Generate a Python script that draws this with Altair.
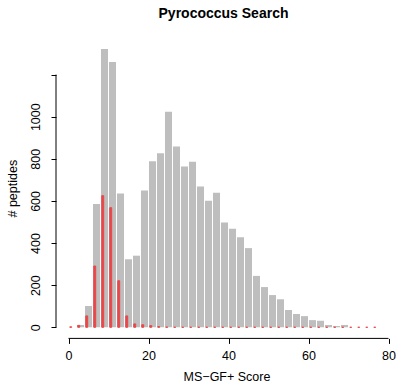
import altair as alt
import pandas as pd

# Histogram bins of width 2 on the MS-GF+ score axis
bin_start = list(range(0, 78, 2))

# All peptides per score bin
all_counts = [0, 11, 101, 585, 1321, 1260, 635, 323, 340, 650,
              788, 826, 1024, 858, 763, 786, 668, 601, 639, 498,
              468, 427, 376, 244, 191, 153, 133, 82, 63, 53,
              34, 31, 11, 6, 11, 0, 0, 0, 0]

# Decoy peptides per score bin
decoy_counts = [2, 9, 54, 291, 625, 568, 221, 54, 16, 12,
                8, 3, 1, 0, 0, 0, 0, 0, 0, 0,
                0, 0, 0, 0, 0, 0, 0, 0, 0, 0,
                0, 0, 0, 0, 0, 0, 0, 0, 0]

y_ticks = [0, 200, 400, 600, 800, 1000, 1200]
x_ticks = [0, 20, 40, 60, 80]

df = pd.DataFrame({"start": bin_start, "all": all_counts, "decoy": decoy_counts})

FONT = "Liberation Sans"
W, H = 341, 300.4

x_scale = alt.Scale(domain=[-3.125, 82.125], nice=False, zero=False)
y_scale = alt.Scale(domain=[-52.8, 1373.8], nice=False, zero=False)

base = alt.Chart(df)

gray = base.transform_calculate(
    x0="datum.start + 0.12", x1="datum.start + 1.88"
).mark_rect(color="#BEBEBE").encode(
    x=alt.X("x0:Q", scale=x_scale,
            axis=alt.Axis(values=x_ticks, title="MS\u2212GF+ Score", domain=False,
                          grid=False, tickSize=5, tickColor="black", labelPadding=6,
                          format="d",
                          labelFontSize=12.5, labelFont=FONT, labelColor="black",
                          titleFont=FONT, titleFontSize=12.5, titleFontWeight="normal",
                          titleColor="black", titlePadding=9, labelFlush=False)),
    x2="x1:Q",
    y=alt.Y("all:Q", scale=y_scale,
            axis=alt.Axis(values=y_ticks, title="# peptides", domain=False, grid=False,
                          tickSize=5, tickColor="black", labelAngle=270, format="d",
                          labelAlign="center", labelBaseline="bottom", labelPadding=9,
                          labelExpr="datum.value == 1200 ? '' : datum.label",
                          labelFontSize=12.5, labelFont=FONT, labelColor="black",
                          titleFont=FONT, titleFontSize=12.5, titleFontWeight="normal",
                          titleColor="black", titlePadding=10, labelFlush=False)),
    y2=alt.datum(0),
)

red = base.transform_calculate(
    x0="datum.start + 0.32", x1="datum.start + 0.8"
).mark_rect(color="#E8474A", stroke="#E8474A", strokeWidth=1).encode(
    x=alt.X("x0:Q", scale=x_scale),
    x2="x1:Q",
    y=alt.Y("decoy:Q", scale=y_scale),
    y2=alt.datum(0),
)

# Axis lines spanning only the tick range
x_line = alt.Chart(pd.DataFrame({"a": [x_ticks[0]], "b": [x_ticks[-1]]})).mark_rule(
    color="black", strokeWidth=1
).encode(x=alt.X("a:Q", scale=x_scale), x2="b:Q", y=alt.value(H))

y_line = alt.Chart(pd.DataFrame({"a": [y_ticks[0]], "b": [y_ticks[-1]]})).mark_rule(
    color="black", strokeWidth=1
).encode(y=alt.Y("a:Q", scale=y_scale), y2="b:Q", x=alt.value(0))

chart = alt.layer(gray, red, x_line, y_line).properties(
    width=W, height=H,
    title=alt.TitleParams("Pyrococcus Search", font=FONT, fontSize=14, fontWeight="bold",
                          color="black", anchor="middle", dx=-3, offset=17),
    autosize=alt.AutoSizeParams(type="none"),
    padding={"left": 56, "top": 38, "right": 0, "bottom": 45.6},
).configure_view(stroke=None).configure_axis(tickWidth=1)

chart.save("out.html", embed_options={"renderer": "svg", "actions": False})
